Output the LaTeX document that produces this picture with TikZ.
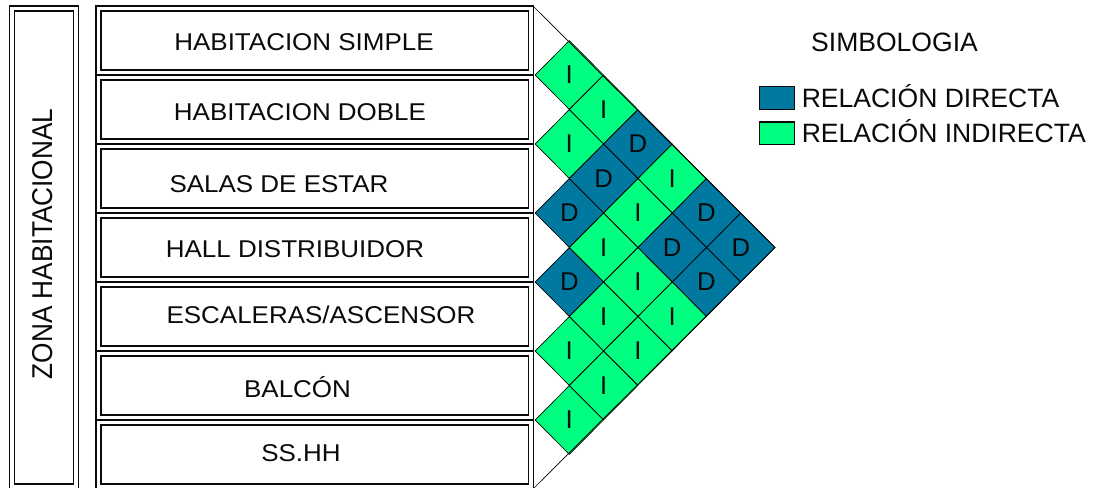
\documentclass[tikz,border=0pt]{standalone}
\usepackage{fontspec}
\setmainfont{Liberation Sans}
\newfontfamily\rowfont{Liberation Sans}[FakeStretch=1.07]
\newfontfamily\zonafont{Liberation Sans}[FakeStretch=0.915]
\usetikzlibrary{shapes.geometric}
\definecolor{dirblue}{RGB}{0,120,160}
\definecolor{indgreen}{RGB}{0,255,128}
\definecolor{ink}{RGB}{10,10,10}
\begin{document}
\begin{tikzpicture}[x=0.75pt,y=-0.75pt,
  dbox/.style={draw=ink, line width=0.9pt, double=white, double distance=2.85pt, rectangle, inner sep=0pt},
  rowbox/.style={dbox, minimum width=324.4pt, minimum height=48pt},
  zonabox/.style={dbox, minimum width=48pt, minimum height=358.5pt},
  rowtext/.style={font=\rowfont\fontsize{18.2}{20}\selectfont, text=ink, inner sep=0pt, text height=13pt, text depth=0pt},
  zonatext/.style={font=\zonafont\fontsize{21.5}{24}\selectfont, text=ink, inner sep=0pt, text height=15.4pt, text depth=0pt, rotate=90},
  legtext/.style={font=\fontsize{19.9}{22}\selectfont, text=ink, inner sep=0pt, text height=14.2pt, text depth=0pt},
  legbox/.style={draw=ink, line width=1.1pt, rectangle, minimum width=26.25pt, minimum height=17pt, inner sep=0pt},
  cell/.style={diamond, draw=black, line width=0.5pt, inner sep=0pt, minimum width=51.45pt, minimum height=51.75pt, font=\fontsize{19.3}{21}\selectfont, text=ink},
  cellD/.style={cell, fill=dirblue},
  cellI/.style={cell, fill=indgreen}
]
\useasboundingbox (0,0) rectangle (1096,488);
\fill[white] (0,0) rectangle (1096,488);

% left zone box
\node[zonabox] (zona) at (44,247.5) {};
\node[zonatext] (zonalbl) at (42,244) {ZONA HABITACIONAL};

% room boxes
\foreach \k in {0,...,6} {
  \node[rowbox] (r\k) at (314.75,{40.5+69*\k}) {};
}
\node[rowtext] (t0) at (304,42) {HABITACION SIMPLE};
\node[rowtext] (t1) at (300,111.5) {HABITACION DOBLE};
\node[rowtext] (t2) at (279,184) {SALAS DE ESTAR};
\node[rowtext] (t3) at (295,249) {HALL DISTRIBUIDOR};
\node[rowtext] (t4) at (321,315) {ESCALERAS/ASCENSOR};
\node[rowtext] (t5) at (297.5,389) {BALCÓN};
\node[rowtext] (t6) at (301,452.5) {SS.HH};

% relation matrix
\foreach \i/\j/\t in {0/1/I,0/2/I,1/2/I,0/3/D,1/3/D,0/4/I,2/3/D,1/4/I,0/5/D,2/4/I,1/5/D,0/6/D,3/4/D,2/5/I,1/6/D,3/5/I,2/6/I,4/5/I,3/6/I,4/6/I,5/6/I} {
  \node[cell\t] (c\i\j) at ({535+34.3*(\j-\i)},{6+34.5*(\i+\j+1)}) {\t};
}
\coordinate (ttop) at (533,6);
\coordinate (tapex) at (775.1,247.5);
\coordinate (tbot) at (533,489);
\draw[line width=0.5pt, black] (ttop) -- (tapex) -- (tbot);

% legend
\node[legtext] (simb) at (894.5,42.5) {SIMBOLOGIA};
\node[legbox, fill=dirblue] (kd) at (777,98) {};
\node[legbox, fill=indgreen] (ki) at (777,133.3) {};
\node[legtext, anchor=west] (ld) at (801.5,98) {RELACIÓN DIRECTA};
\node[legtext, anchor=west] (li) at (801.5,133.3) {RELACIÓN INDIRECTA};
\end{tikzpicture}
\end{document}
